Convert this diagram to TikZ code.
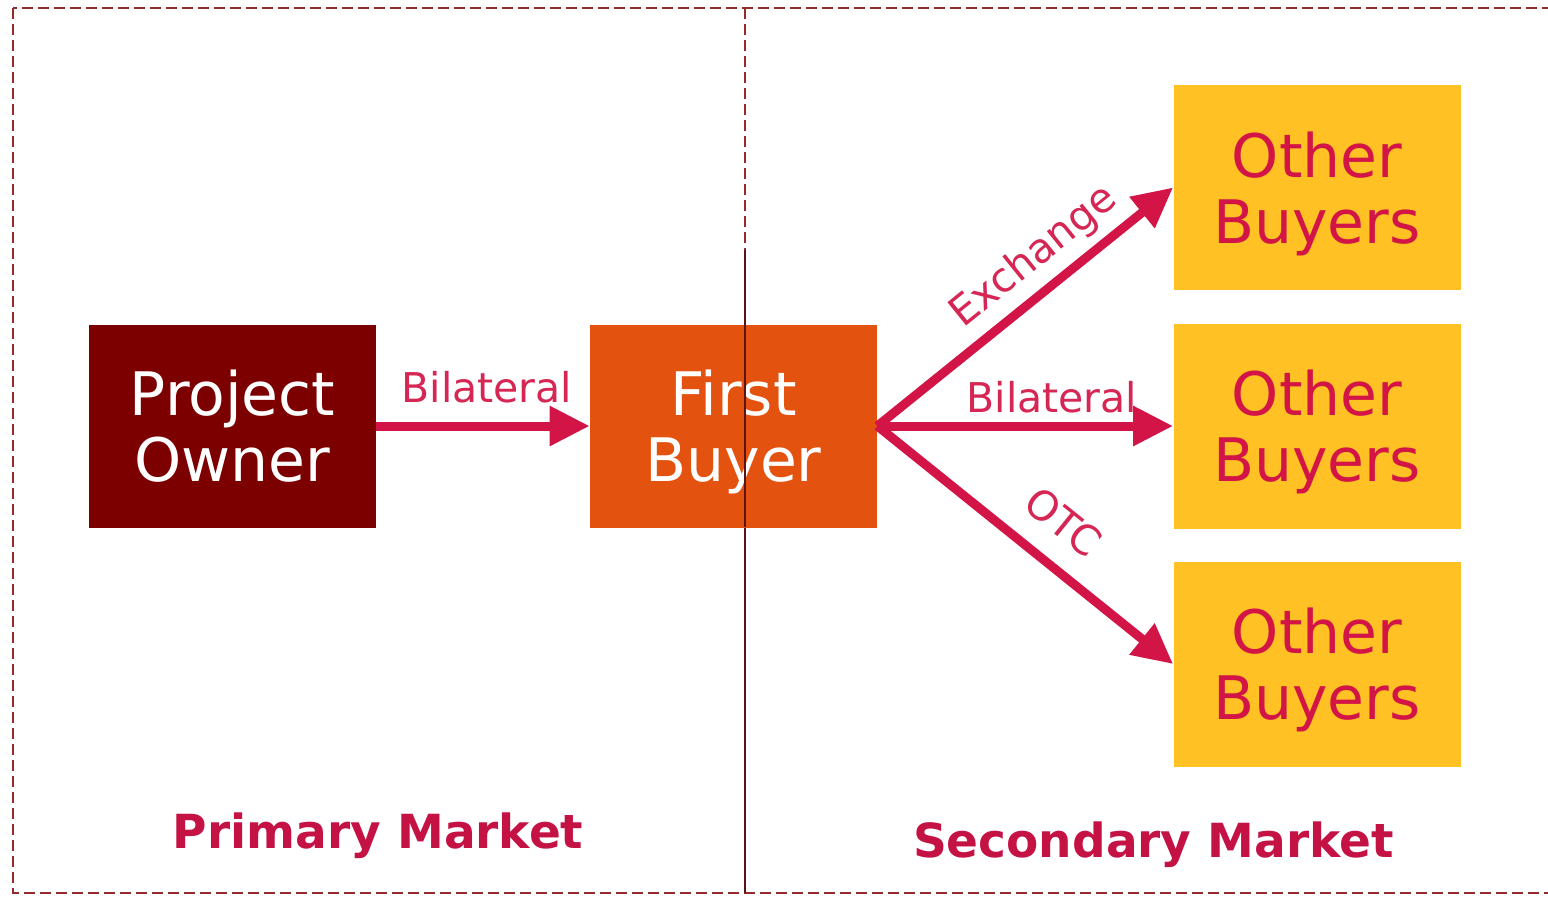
\documentclass[tikz,border=0pt]{standalone}
\usepackage{fontspec}
\setmainfont{DejaVu Sans}
\usetikzlibrary{arrows.meta}
\definecolor{borderred}{RGB}{150,42,42}
\definecolor{divdark}{RGB}{90,20,25}
\definecolor{ownerred}{RGB}{125,0,0}
\definecolor{buyerorange}{RGB}{228,82,16}
\definecolor{othergold}{RGB}{255,193,35}
\definecolor{crim}{RGB}{210,20,70}
\definecolor{labcrim}{RGB}{214,38,84}
\definecolor{marketcrim}{RGB}{196,18,68}
\tikzset{
  bigbox/.style={rectangle, inner sep=0pt, minimum width=143.5pt, minimum height=101.5pt,
    align=center, text depth=0pt, font=\fontsize{30}{33}\selectfont},
  ownerbox/.style={bigbox, fill=ownerred, text=white},
  firstbox/.style={bigbox, fill=buyerorange, text=white},
  otherbox/.style={bigbox, fill=othergold, text=crim, minimum height=102.5pt},
  arr/.style={draw=crim, line width=4.5pt, -{Triangle[length=20pt,width=19pt]}},
  arrlab/.style={text=labcrim, font=\fontsize{20.5}{24}\selectfont, inner sep=0pt},
  marketlab/.style={text=marketcrim, font=\bfseries\fontsize{23.5}{28}\selectfont, inner sep=0pt, anchor=base},
  frame/.style={draw=borderred, line width=1pt, dash pattern=on 5.5pt off 2.5pt}
}
\begin{document}
\begin{tikzpicture}[x=0.5pt,y=-0.5pt]
\useasboundingbox (0,0) rectangle (1548,896);
\clip (0,0) rectangle (1548,896);
\fill[white] (0,0) rectangle (1548,896);
% frame
\draw[frame] (13,8) rectangle (1570,893);
\coordinate (dtop) at (745,8);
\coordinate (dmid) at (745,250);
\coordinate (dbot) at (745,893);
\draw[frame] (dtop) -- (dbot);
\draw[divdark, line width=0.6pt] (dmid) -- (dbot);
% boxes
\node[ownerbox] (po) at (232.5,426) {Project\\Owner};
\node[firstbox] (fb) at (733.5,426) {First\\Buyer};
\draw[divdark, line width=0.6pt] (745,325) -- (745,527);
\node[otherbox] (ob1) at (1317,187.5) {Other\\Buyers};
\node[otherbox] (ob2) at (1317,426) {Other\\Buyers};
\node[otherbox] (ob3) at (1317,664) {Other\\Buyers};
% arrows
\draw[arr] (po.east) -- node[arrlab, anchor=base, pos=0.5, yshift=12pt, xshift=2pt] {Bilateral} (fb.west);
\draw[arr] (fb.east) -- node[arrlab, sloped, above=4.5pt, pos=0.6] {Exchange} (ob1.west);
\draw[arr] (fb.east) -- node[arrlab, anchor=base, pos=0.59, yshift=7pt] {Bilateral} (ob2.west);
\draw[arr] (fb.east) -- node[arrlab, sloped, above=11pt, pos=0.54] {OTC} (ob3.west);
% market labels
\node[marketlab] (pm) at (378,848) {Primary Market};
\node[marketlab] (sm) at (1153.5,857) {Secondary Market};
\end{tikzpicture}
\end{document}
